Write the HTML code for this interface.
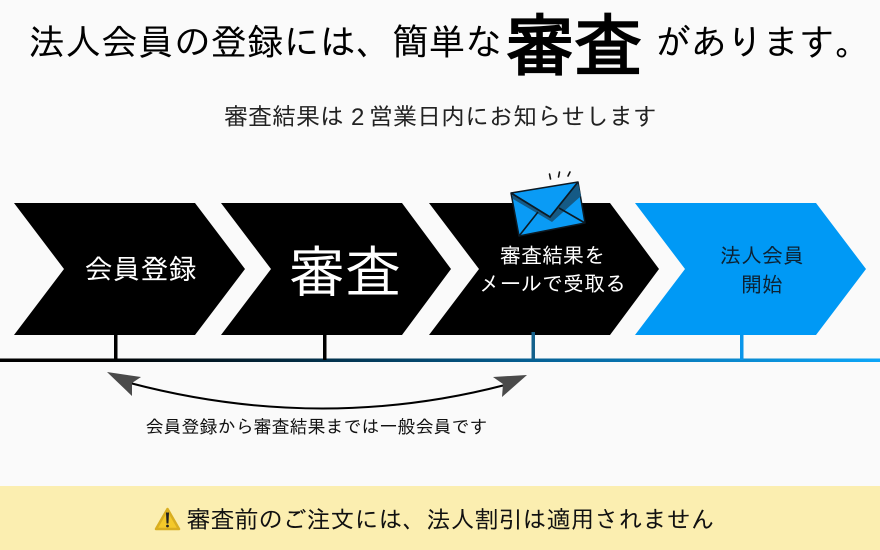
<!DOCTYPE html>
<html lang="ja">
<head>
<meta charset="utf-8">
<style>
html,body{margin:0;padding:0;background:#fafafa}
svg{display:block}
text{font-family:"IPAGothic","WenQuanYi Zen Hei",sans-serif}
</style>
</head>
<body>
<svg xmlns="http://www.w3.org/2000/svg" width="880" height="550" viewBox="0 0 880 550">
<defs>
<linearGradient id="g" x1="0" y1="0" x2="880" y2="0" gradientUnits="userSpaceOnUse">
<stop offset="0.12" stop-color="#000"/>
<stop offset="0.6" stop-color="#055f92"/>
<stop offset="1" stop-color="#0da6f8"/>
</linearGradient>
</defs>
<rect width="880" height="550" fill="#fafafa"/>

<text x="28.5" y="55" font-size="36.4" fill="#000">法人会員の登録には、簡単な</text>
<text x="506" y="70" font-size="68" font-weight="700" fill="#000">審査</text>
<text x="655" y="55" font-size="36" fill="#000">があります。</text>
<text x="224" y="125" font-size="24" fill="#222">審査結果は</text>
<text x="351" y="125" font-size="24" fill="#222" style="font-family:'Liberation Sans',sans-serif">2</text>
<text x="369" y="125" font-size="24" fill="#222">営業日内にお知らせします</text>

<polygon points="14,203 195,203 245,269 195,335 14,335 64,269" fill="#000"/>
<polygon points="221,203 402,203 451,269 402,335 221,335 271,269" fill="#000"/>
<polygon points="429,203 610,203 659,269 610,335 429,335 479,269" fill="#000"/>
<polygon points="635,203 816,203 866,269 816,335 635,335 685,269" fill="#0099f5"/>

<text x="84.5" y="279" font-size="28" fill="#fff">会員登録</text>
<text x="289" y="292" font-size="56" fill="#fff">審査</text>
<text x="552.5" y="263" font-size="21" fill="#fff" text-anchor="middle">審査結果を</text>
<text x="552.5" y="291" font-size="21" fill="#fff" text-anchor="middle">メールで受取る</text>
<text x="762" y="263" font-size="21" fill="#0c2233" text-anchor="middle">法人会員</text>
<text x="762" y="292" font-size="21" fill="#0c2233" text-anchor="middle">開始</text>

<rect x="0" y="358.5" width="880" height="3.5" fill="url(#g)"/>
<rect x="114" y="335" width="3.5" height="25" fill="#000"/>
<rect x="323" y="335" width="3.5" height="25" fill="#000"/>
<rect x="531.5" y="332" width="3.5" height="28" fill="#14618c"/>
<rect x="740" y="335" width="3.5" height="25" fill="#0a96ea"/>

<path d="M130,383 Q320,433 505,385" fill="none" stroke="#000" stroke-width="2"/>
<polygon points="107,372 141,377 132,383 132,396" fill="#4a4a4a"/>
<polygon points="527,375 493,377 503,384 502,397" fill="#4a4a4a"/>
<text x="145.5" y="433" font-size="18" fill="#111">会員登録から審査結果までは一般会員です</text>

<rect x="0" y="486" width="880" height="64" fill="#fbeeb0"/>
<polygon points="167.5,509 179,529 156,529" fill="#f4c92a" stroke="#d9ae20" stroke-width="2.5" stroke-linejoin="round"/>
<path d="M166.5,513 L168.5,513 L168,523 L167,523 Z" fill="#222" stroke="#222"/>
<circle cx="167.5" cy="526" r="1.4" fill="#222"/>
<text x="186.5" y="528" font-size="24" fill="#111">審査前のご注文には、法人割引は適用されません</text>

<g stroke="#111" stroke-width="1.6" stroke-linecap="round" fill="none">
<path d="M549.5,174 L550.5,179"/>
<path d="M559.5,172 L558.5,177"/>
<path d="M570,172 L568,176"/>
</g>
<polygon points="511,193 578,182 585,223 519,236" fill="#0a9bf5" stroke="#0c1a24" stroke-width="1.5" stroke-linejoin="round"/>
<polygon points="512,194 550,217 578,183 581,196 552,222 513,199" fill="#155a85"/>
<path d="M511,193 L550,217 L578,182" fill="none" stroke="#0c1a24" stroke-width="1.8"/>
<path d="M519,236 L538,212 M585,223 L559,208" fill="none" stroke="#0c1a24" stroke-width="1.6"/>
</svg>
</body>
</html>
